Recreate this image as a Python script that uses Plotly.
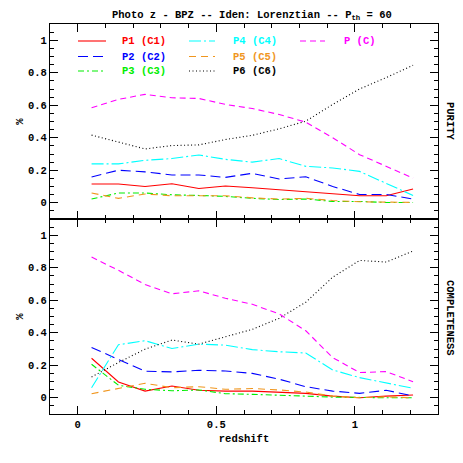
import plotly.graph_objects as go

# bin centres (redshift)
z = [0.05, 0.147, 0.243, 0.34, 0.437, 0.533, 0.63, 0.727, 0.823, 0.92, 1.017, 1.113, 1.21]

# purity per class
pur_p1 = [0.115, 0.115, 0.10, 0.117, 0.088, 0.103, 0.092, 0.08, 0.07, 0.054, 0.043, 0.043, 0.085]
pur_p2 = [0.159, 0.20, 0.19, 0.171, 0.171, 0.156, 0.181, 0.146, 0.16, 0.10, 0.051, 0.051, 0.023]
pur_p3 = [0.023, 0.06, 0.06, 0.049, 0.045, 0.039, 0.027, 0.02, 0.023, 0.008, 0.008, 0.002, 0.002]
pur_p4 = [0.239, 0.239, 0.261, 0.272, 0.294, 0.267, 0.25, 0.272, 0.224, 0.214, 0.193, 0.121, 0.045]
pur_p5 = [0.06, 0.027, 0.054, 0.043, 0.043, 0.043, 0.03, 0.023, 0.027, 0.014, 0.006, 0.002, 0.002]
pur_p6 = [0.416, 0.374, 0.331, 0.352, 0.356, 0.389, 0.415, 0.455, 0.502, 0.605, 0.70, 0.77, 0.846]
pur_p  = [0.585, 0.636, 0.667, 0.646, 0.642, 0.605, 0.58, 0.543, 0.496, 0.40, 0.296, 0.224, 0.152]

# completeness per class
com_p1 = [0.243, 0.097, 0.041, 0.072, 0.046, 0.041, 0.041, 0.035, 0.027, 0.01, 0.0, 0.01, 0.017]
com_p2 = [0.309, 0.237, 0.163, 0.159, 0.169, 0.165, 0.15, 0.114, 0.068, 0.041, 0.027, 0.046, 0.011]
com_p3 = [0.206, 0.077, 0.052, 0.043, 0.048, 0.025, 0.021, 0.017, 0.01, 0.004, 0.0, 0.0, 0.0]
com_p4 = [0.062, 0.326, 0.351, 0.303, 0.33, 0.324, 0.296, 0.283, 0.275, 0.171, 0.124, 0.089, 0.058]
com_p5 = [0.025, 0.058, 0.089, 0.062, 0.068, 0.052, 0.057, 0.048, 0.035, 0.01, 0.0, 0.006, 0.0]
com_p6 = [0.128, 0.217, 0.299, 0.355, 0.33, 0.375, 0.421, 0.489, 0.588, 0.742, 0.845, 0.835, 0.903]
com_p  = [0.866, 0.784, 0.697, 0.64, 0.658, 0.612, 0.575, 0.516, 0.412, 0.247, 0.155, 0.161, 0.099]

names   = ['P1 (C1)', 'P2 (C2)', 'P3 (C3)', 'P4 (C4)', 'P5 (C5)', 'P6 (C6)', 'P (C)']
purity  = [pur_p1, pur_p2, pur_p3, pur_p4, pur_p5, pur_p6, pur_p]
compl   = [com_p1, com_p2, com_p3, com_p4, com_p5, com_p6, com_p]

COLORS = ['#ff0000', '#0000ff', '#00ee00', '#00ffff', '#f0961e', '#000000', '#ff00ff']
DASHES = ['solid', '10px,5px', '6px,3px,2px,3px', '12px,3px,2px,3px',
          '7px,5px', '1px,2.5px', '6px,4px']

FONT = 'Liberation Mono'
# page body keeps its default 8px margin, so the figure is drawn 8px smaller
W, H = 455, 455
L, R, T, B = 42, 25, 16, 49


def px(xs):   # screen pixel x -> paper
    return (xs - 8 - L) / (W - L - R)


def py(ys):   # screen pixel y -> paper
    return (H - B - (ys - 8)) / (H - T - B)


fig = go.Figure()
for ys, ax in ((purity, 'y'), (compl, 'y2')):
    for name, vals, c, d in zip(names, ys, COLORS, DASHES):
        fig.add_trace(go.Scatter(
            x=z, y=vals, mode='lines', name=name, yaxis=ax,
            xaxis='x2' if ax == 'y' else 'x',
            line=dict(color=c, width=1.1, dash=d), showlegend=False,
        ))

# ── hand-made legend (3 columns) ──────────────────────────────────────────────
cols = [(78, 106, 120), (189, 215, 231), (300, 325, 342)]
rows = [41, 56.5, 71]
slots = [(0, 0), (0, 1), (0, 2), (1, 0), (1, 1), (1, 2), (2, 0)]
shapes, annos = [], []
for (ci, ri), name, c, d in zip(slots, names, COLORS, DASHES):
    x0, x1, xt = cols[ci]
    yy = rows[ri]
    shapes.append(dict(type='line', xref='paper', yref='paper',
                       x0=px(x0), x1=px(x1), y0=py(yy), y1=py(yy),
                       line=dict(color=c, width=1.1, dash=d)))
    annos.append(dict(text=name, xref='paper', yref='paper', x=px(xt), y=py(yy),
                      xanchor='left', yanchor='middle', showarrow=False,
                      font=dict(color=c, size=10.5, family=FONT, weight='bold')))

annos.append(dict(text='Photo z - BPZ -- Iden: Lorenztian -- P<sub>th</sub> = 60',
                  xref='paper', yref='paper', x=px(252), y=py(15),
                  xanchor='center', yanchor='middle', showarrow=False,
                  font=dict(size=10.5, family=FONT, weight='bold', color='black')))
for lab, yc in (('PURITY', 122), ('COMPLETENESS', 318)):
    annos.append(dict(text=lab, xref='paper', yref='paper', x=px(450), y=py(yc),
                      textangle=90, xanchor='center', yanchor='middle', showarrow=False,
                      font=dict(size=10.5, family=FONT, weight='bold', color='black')))

axis_common = dict(showline=True, linecolor='black', linewidth=1.2, mirror='allticks',
                   ticks='inside', ticklen=8, tickwidth=1, tickcolor='black',
                   showgrid=False, zeroline=False,
                   tickfont=dict(size=10.5, family=FONT, weight='bold', color='black'))
minor_x = dict(dtick=0.1, ticklen=4, ticks='inside', tickcolor='black')
minor_y = dict(dtick=0.05, ticklen=4, ticks='inside', tickcolor='black')
title_font = dict(size=10.5, family=FONT, weight='bold', color='black')

fig.update_layout(
    width=W, height=H, margin=dict(l=L, r=R, t=T, b=B),
    paper_bgcolor='white', plot_bgcolor='white', showlegend=False,
    xaxis=dict(**axis_common, range=[-0.1, 1.3], dtick=0.5, tick0=0, anchor='y2',
               minor=minor_x,
               title=dict(text='redshift', standoff=4, font=title_font)),
    xaxis2=dict(**axis_common, range=[-0.1, 1.3], dtick=0.5, tick0=0, anchor='y',
                matches='x', showticklabels=False, minor=minor_x),
    yaxis=dict(**axis_common, domain=[0.5, 1], range=[-0.1, 1.1], dtick=0.2, tick0=0,
               anchor='x2', minor=minor_y,
               title=dict(text='%', standoff=2, font=title_font)),
    yaxis2=dict(**axis_common, domain=[0, 0.5], range=[-0.1, 1.1], dtick=0.2, tick0=0,
                anchor='x', minor=minor_y,
                title=dict(text='%', standoff=2, font=title_font)),
    shapes=shapes, annotations=annos,
)

fig.write_html('out.html')
